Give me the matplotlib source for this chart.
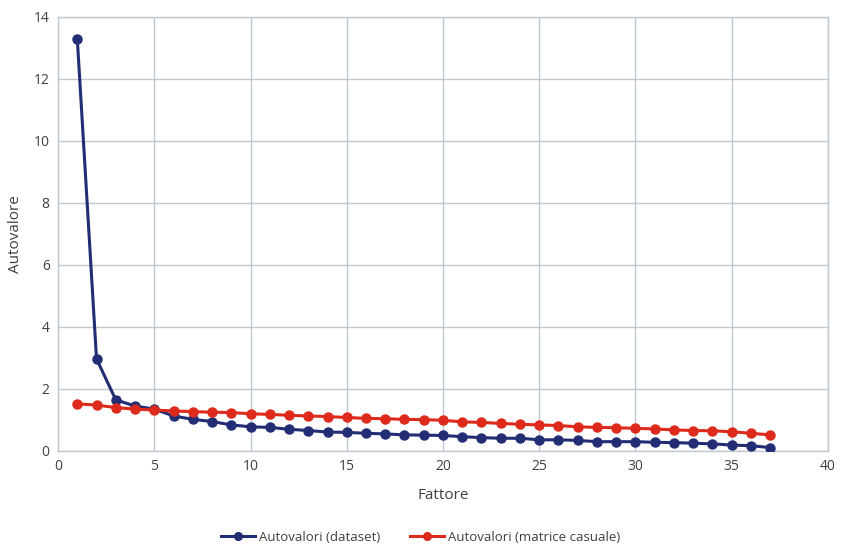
import matplotlib
matplotlib.use("Agg")
import matplotlib.pyplot as plt

fattore = list(range(1, 38))
dataset = [13.3, 2.97, 1.65, 1.45, 1.35, 1.13, 1.02, 0.95, 0.84, 0.78,
           0.76, 0.70, 0.66, 0.61, 0.60, 0.57, 0.55, 0.52, 0.51, 0.50,
           0.46, 0.43, 0.41, 0.41, 0.36, 0.36, 0.34, 0.30, 0.30, 0.30,
           0.28, 0.27, 0.25, 0.23, 0.19, 0.17, 0.11]
casuale = [1.52, 1.48, 1.40, 1.35, 1.32, 1.29, 1.27, 1.25, 1.24, 1.20,
           1.18, 1.15, 1.13, 1.11, 1.08, 1.05, 1.04, 1.02, 1.01, 0.99,
           0.94, 0.92, 0.89, 0.86, 0.84, 0.82, 0.78, 0.76, 0.75, 0.73,
           0.71, 0.68, 0.66, 0.65, 0.62, 0.57, 0.52]
labels = ["Autovalori (dataset)", "Autovalori (matrice casuale)"]

plt.rcParams['font.family'] = ['Open Sans', 'DejaVu Sans']
fig = plt.figure(figsize=(8.41, 5.44), dpi=100)
ax = fig.add_axes([0.069, 0.171, 0.9155, 0.798])

blue = "#222d74"
red = "#dd2a1b"
ax.plot(fattore, dataset, color=blue, lw=2.2, marker='o', ms=6.5, label=labels[0], zorder=3)
ax.plot(fattore, casuale, color=red, lw=2.2, marker='o', ms=6.5, label=labels[1], zorder=3)

ax.set_xlim(0, 40)
ax.set_ylim(0, 14)
ax.set_xticks(range(0, 41, 5))
ax.set_yticks(range(0, 15, 2))
ax.grid(True, color="#bfc7d1", lw=1.0)
ax.set_axisbelow(True)
for s in ax.spines.values():
    s.set_color("#bfc7d1")
    s.set_linewidth(1.0)
ax.tick_params(length=0, labelsize=10, colors="#404040", pad=6)
ax.set_xlabel("Fattore", fontsize=11, color="#404040", labelpad=10)
ax.set_ylabel("Autovalore", fontsize=11, color="#404040", labelpad=8)

fig.legend(loc="lower center", bbox_to_anchor=(0.5, -0.022), ncol=2, frameon=False,
           fontsize=9.5, handlelength=2.6, handletextpad=0.3, columnspacing=2.2,
           markerscale=0.85, labelcolor="#404040")

fig.savefig("out.png", dpi=100)
